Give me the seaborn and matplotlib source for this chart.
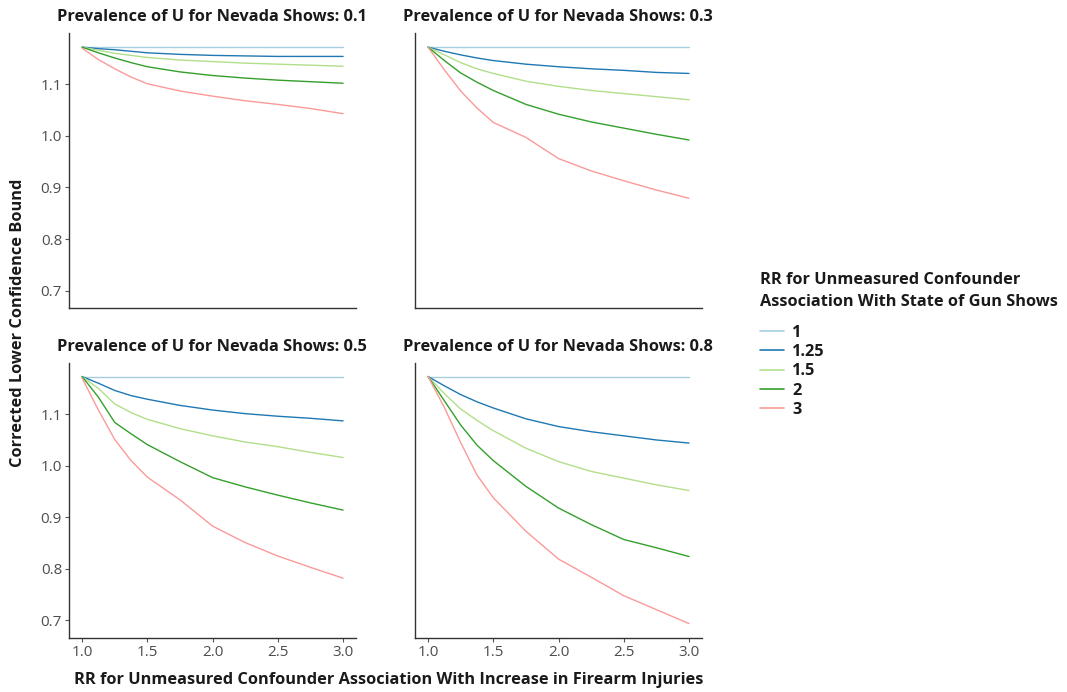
import matplotlib
matplotlib.use("Agg")
import matplotlib.pyplot as plt
import seaborn as sns
import pandas as pd

# x: RR for unmeasured confounder association with increase in firearm injuries
rr_injury = [1.0, 1.125, 1.25, 1.375, 1.5, 1.75, 2.0, 2.25, 2.5, 2.75, 3.0]

# hue levels: RR for confounder association with state of gun shows
rr_levels = ["1", "1.25", "1.5", "2", "3"]

# prevalence panels
prevalences = ["0.1", "0.3", "0.5", "0.8"]

# Prevalence 0.1
p01_rr1 = [1.173, 1.173, 1.173, 1.173, 1.173, 1.173, 1.173, 1.173, 1.173, 1.173, 1.173]
p01_rr125 = [1.172, 1.169, 1.167, 1.164, 1.161, 1.158, 1.156, 1.155, 1.154, 1.154, 1.154]
p01_rr15 = [1.172, 1.166, 1.160, 1.156, 1.152, 1.147, 1.144, 1.141, 1.139, 1.137, 1.135]
p01_rr2 = [1.172, 1.161, 1.151, 1.142, 1.134, 1.124, 1.117, 1.112, 1.108, 1.105, 1.102]
p01_rr3 = [1.170, 1.148, 1.130, 1.114, 1.101, 1.087, 1.077, 1.068, 1.061, 1.053, 1.043]

# Prevalence 0.3
p03_rr1 = [1.173, 1.173, 1.173, 1.173, 1.173, 1.173, 1.173, 1.173, 1.173, 1.173, 1.173]
p03_rr125 = [1.172, 1.164, 1.157, 1.151, 1.146, 1.139, 1.134, 1.130, 1.127, 1.123, 1.121]
p03_rr15 = [1.172, 1.157, 1.142, 1.130, 1.121, 1.106, 1.096, 1.088, 1.082, 1.076, 1.070]
p03_rr2 = [1.172, 1.146, 1.122, 1.104, 1.088, 1.061, 1.042, 1.027, 1.015, 1.003, 0.992]
p03_rr3 = [1.172, 1.128, 1.087, 1.054, 1.026, 0.997, 0.956, 0.932, 0.913, 0.895, 0.879]

# Prevalence 0.5
p05_rr1 = [1.173, 1.173, 1.173, 1.173, 1.173, 1.173, 1.173, 1.173, 1.173, 1.173, 1.173]
p05_rr125 = [1.173, 1.160, 1.146, 1.136, 1.129, 1.117, 1.108, 1.101, 1.096, 1.092, 1.087]
p05_rr15 = [1.173, 1.150, 1.120, 1.103, 1.090, 1.072, 1.058, 1.046, 1.037, 1.026, 1.016]
p05_rr2 = [1.173, 1.133, 1.084, 1.062, 1.041, 1.008, 0.977, 0.959, 0.943, 0.928, 0.914]
p05_rr3 = [1.170, 1.108, 1.051, 1.010, 0.978, 0.934, 0.883, 0.851, 0.825, 0.803, 0.782]

# Prevalence 0.8
p08_rr1 = [1.172, 1.172, 1.172, 1.172, 1.172, 1.172, 1.172, 1.172, 1.172, 1.172, 1.172]
p08_rr125 = [1.173, 1.155, 1.138, 1.124, 1.112, 1.091, 1.076, 1.066, 1.058, 1.050, 1.044]
p08_rr15 = [1.173, 1.140, 1.110, 1.088, 1.068, 1.034, 1.008, 0.989, 0.976, 0.963, 0.952]
p08_rr2 = [1.173, 1.126, 1.079, 1.040, 1.010, 0.960, 0.918, 0.886, 0.857, 0.841, 0.824]
p08_rr3 = [1.173, 1.113, 1.045, 0.982, 0.938, 0.873, 0.819, 0.784, 0.748, 0.721, 0.694]

x_ticks = [1.0, 1.5, 2.0, 2.5, 3.0]
y_ticks = [0.7, 0.8, 0.9, 1.0, 1.1]

series = {
    "0.1": [p01_rr1, p01_rr125, p01_rr15, p01_rr2, p01_rr3],
    "0.3": [p03_rr1, p03_rr125, p03_rr15, p03_rr2, p03_rr3],
    "0.5": [p05_rr1, p05_rr125, p05_rr15, p05_rr2, p05_rr3],
    "0.8": [p08_rr1, p08_rr125, p08_rr15, p08_rr2, p08_rr3],
}

rows = []
for prev in prevalences:
    for lvl, vals in zip(rr_levels, series[prev]):
        for x, y in zip(rr_injury, vals):
            rows.append({"prev": prev, "rr_show": lvl, "rr_inj": x, "bound": y})
df = pd.DataFrame(rows)

sns.set_theme(style="ticks")
plt.rcParams["font.family"] = ["Open Sans", "DejaVu Sans"]

palette = dict(zip(rr_levels, ["#a6cee3", "#1f78b4", "#b2df8a", "#33a02c", "#fb9a99"]))

fig, axes = plt.subplots(2, 2, figsize=(10.67, 6.92), dpi=100, sharex=True, sharey=True)
fig.subplots_adjust(left=0.0647, right=0.658, top=0.952, bottom=0.078, wspace=0.205, hspace=0.2)

for i, (ax, prev) in enumerate(zip(axes.flat, prevalences)):
    sns.lineplot(data=df[df["prev"] == prev], x="rr_inj", y="bound", hue="rr_show",
                 hue_order=rr_levels, palette=palette, linewidth=1.0, ax=ax, legend=False)
    ax.set_xlim(0.9, 3.1)
    ax.set_ylim(0.666, 1.199)
    ax.set_xticks(x_ticks)
    ax.set_yticks(y_ticks)
    ax.set_xlabel("")
    ax.set_ylabel("")
    for s in ["top", "right"]:
        ax.spines[s].set_visible(False)
    for s in ["left", "bottom"]:
        ax.spines[s].set_color("#333333")
        ax.spines[s].set_linewidth(1.0)
    ax.tick_params(axis="both", colors="#555555", labelcolor="#4d4d4d", labelsize=11,
                   length=3, width=0.8, pad=2)
    if i % 2 == 1:
        ax.tick_params(axis="y", length=0)
    if i < 2:
        ax.tick_params(axis="x", length=0)
    ax.text(-0.042, 1.058, f"Prevalence of U for Nevada Shows: {prev}", transform=ax.transAxes,
            ha="left", va="center", fontsize=11.8, fontweight="bold", color="#1a1a1a")

fig.text(0.017, 0.533, "Corrected Lower Confidence Bound", rotation=90, ha="center", va="center",
         fontsize=11.8, fontweight="bold", color="#1a1a1a")
fig.text(0.364, 0.018, "RR for Unmeasured Confounder Association With Increase in Firearm Injuries",
         ha="center", va="center", fontsize=11.8, fontweight="bold", color="#1a1a1a")

# legend title (two lines) and entries
fig.text(760 / 1067, 1 - 280 / 692, "RR for Unmeasured Confounder", ha="left", va="center",
         fontsize=11.8, fontweight="bold", color="#1a1a1a")
fig.text(760 / 1067, 1 - 302 / 692, "Association With State of Gun Shows", ha="left", va="center",
         fontsize=11.8, fontweight="bold", color="#1a1a1a")

handles = [plt.Line2D([], [], color=palette[l], linewidth=1.2) for l in rr_levels]
leg = fig.legend(handles, rr_levels, loc="upper left", bbox_to_anchor=(0.698, 0.552),
                 frameon=False, prop={"weight": "bold", "size": 11.8}, handlelength=1.5,
                 handletextpad=0.5, labelspacing=0.2)
for t in leg.get_texts():
    t.set_color("#1a1a1a")

fig.savefig("out.png", dpi=100)
